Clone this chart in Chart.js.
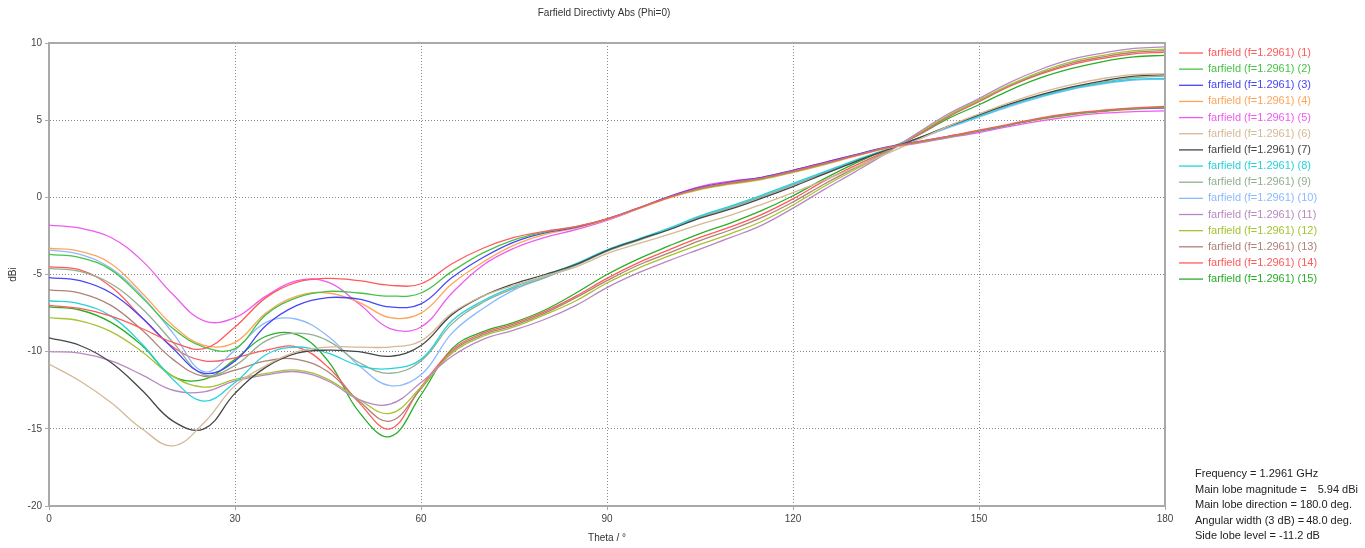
<!DOCTYPE html>
<html>
<head>
<meta charset="utf-8">
<title>Farfield Directivty Abs (Phi=0)</title>
<script src="https://cdn.jsdelivr.net/npm/chart.js@4.4.0/dist/chart.umd.min.js"></script>
<style>
    html, body { margin: 0; padding: 0; background: #ffffff; }
    #wrap { width: 1365px; height: 548px; }
</style>
</head>
<body>
<div id="wrap"><canvas id="farfieldChart" width="1365" height="548"></canvas></div>
<script>
// Theta angles (deg) of the samples
const theta = [0, 5, 10, 15, 20, 25, 30, 35, 40, 45, 50, 55, 60, 65, 70, 75, 80, 85, 90,
    95, 100, 105, 110, 115, 120, 125, 130, 135, 140, 145, 150, 155, 160, 165, 170, 175, 180];

// Directivity (dBi) of each farfield
const ff1 = [-7.0, -7.2, -7.7, -8.5, -9.4, -9.8, -8.4, -6.5, -5.5, -5.25, -5.4, -5.7, -5.6, -4.3, -3.3, -2.6, -2.2, -1.9, -1.4,
    -0.7, 0.0, 0.6, 0.95, 1.25, 1.7, 2.2, 2.7, 3.2, 3.6, 3.95, 4.35, 4.75, 5.15, 5.45, 5.65, 5.8, 5.9];
const ff2 = [-3.7, -3.9, -4.7, -6.5, -8.5, -9.7, -9.8, -7.6, -6.5, -6.1, -6.2, -6.4, -6.2, -4.8, -3.6, -2.75, -2.25, -1.9, -1.4,
    -0.7, 0.0, 0.55, 0.9, 1.2, 1.65, 2.15, 2.7, 3.2, 3.55, 3.9, 4.3, 4.7, 5.1, 5.4, 5.6, 5.75, 5.85];
const ff3 = [-5.2, -5.4, -6.2, -7.8, -9.8, -11.4, -10.6, -8.3, -7.0, -6.5, -6.6, -7.1, -6.9, -5.2, -3.9, -2.9, -2.3, -1.95, -1.4,
    -0.7, 0.05, 0.65, 1.0, 1.3, 1.75, 2.25, 2.75, 3.25, 3.6, 3.95, 4.3, 4.7, 5.1, 5.4, 5.6, 5.75, 5.8];
const ff4 = [-3.3, -3.5, -4.3, -6.2, -8.3, -9.6, -9.4, -7.5, -6.4, -6.2, -6.8, -7.8, -7.5, -5.6, -4.2, -3.1, -2.4, -2.0, -1.45,
    -0.75, -0.05, 0.5, 0.85, 1.15, 1.6, 2.1, 2.65, 3.15, 3.55, 3.9, 4.3, 4.7, 5.05, 5.35, 5.55, 5.7, 5.8];
const ff5 = [-1.8, -2.0, -2.6, -4.1, -6.3, -8.0, -7.8, -6.4, -5.4, -5.5, -6.9, -8.5, -8.4, -6.2, -4.4, -3.3, -2.6, -2.1, -1.5,
    -0.75, 0.05, 0.7, 1.05, 1.3, 1.75, 2.25, 2.75, 3.2, 3.5, 3.85, 4.2, 4.6, 4.95, 5.25, 5.45, 5.55, 5.6];
const ff6 = [-10.8, -11.9, -13.3, -15.0, -16.1, -14.6, -12.2, -10.9, -10.0, -9.7, -9.7, -9.7, -9.3, -7.5, -6.4, -5.7, -5.1, -4.5, -3.65,
    -3.0, -2.4, -1.75, -1.15, -0.45, 0.3, 1.1, 1.95, 2.8, 3.7, 4.6, 5.4, 6.15, 6.8, 7.3, 7.7, 7.95, 8.0];
const ff7 = [-9.1, -9.6, -10.7, -12.5, -14.5, -15.0, -12.7, -11.0, -10.1, -9.9, -10.0, -10.3, -9.6, -7.6, -6.4, -5.6, -5.0, -4.35, -3.45,
    -2.75, -2.1, -1.35, -0.75, -0.05, 0.7, 1.5, 2.3, 3.05, 3.8, 4.6, 5.35, 6.05, 6.65, 7.15, 7.55, 7.85, 7.95];
const ff8 = [-6.7, -6.9, -7.7, -9.5, -11.8, -13.2, -12.0, -10.2, -9.7, -10.1, -10.9, -11.1, -10.5, -8.0, -6.7, -5.8, -5.1, -4.3, -3.4,
    -2.7, -2.0, -1.2, -0.55, 0.15, 0.9, 1.65, 2.4, 3.1, 3.8, 4.55, 5.25, 5.95, 6.55, 7.05, 7.4, 7.65, 7.7];
const ff9 = [-4.6, -4.8, -5.6, -7.2, -9.4, -11.5, -10.9, -9.3, -8.8, -9.3, -10.7, -11.4, -10.6, -8.2, -6.8, -5.9, -5.2, -4.4, -3.5,
    -2.8, -2.1, -1.3, -0.65, 0.05, 0.8, 1.55, 2.35, 3.05, 3.8, 4.6, 5.3, 6.0, 6.6, 7.1, 7.45, 7.75, 7.85];
const ff10 = [-3.4, -3.7, -4.6, -6.4, -8.8, -11.3, -9.9, -8.1, -7.9, -9.0, -10.9, -12.2, -11.5, -8.8, -7.2, -6.0, -5.2, -4.4, -3.45,
    -2.75, -2.05, -1.25, -0.6, 0.1, 0.85, 1.6, 2.35, 3.05, 3.75, 4.5, 5.2, 5.9, 6.5, 7.0, 7.35, 7.6, 7.65];
const ff11 = [-10.0, -10.1, -10.6, -11.5, -12.5, -12.6, -11.9, -11.5, -11.3, -11.9, -13.1, -13.4, -12.0, -10.3, -9.2, -8.6, -7.9, -7.0, -5.85,
    -4.9, -4.1, -3.35, -2.6, -1.8, -0.7, 0.5, 1.65, 2.85, 4.15, 5.4, 6.4, 7.45, 8.3, 8.95, 9.35, 9.65, 9.75];
const ff12 = [-7.8, -8.0, -8.7, -10.0, -11.6, -12.3, -11.8, -11.4, -11.2, -11.8, -13.1, -14.0, -12.3, -10.1, -9.0, -8.4, -7.6, -6.7, -5.55,
    -4.6, -3.8, -3.05, -2.35, -1.55, -0.5, 0.7, 1.8, 2.9, 4.1, 5.3, 6.3, 7.3, 8.15, 8.8, 9.2, 9.5, 9.6];
const ff13 = [-6.0, -6.2, -7.0, -8.6, -10.5, -11.6, -11.2, -10.6, -10.5, -11.3, -13.2, -14.5, -12.4, -10.0, -8.9, -8.3, -7.5, -6.5, -5.4,
    -4.4, -3.6, -2.8, -2.1, -1.3, -0.3, 0.85, 1.9, 2.95, 4.05, 5.25, 6.25, 7.25, 8.05, 8.7, 9.1, 9.4, 9.5];
const ff14 = [-4.5, -4.7, -5.8, -7.8, -9.7, -10.6, -10.4, -9.9, -9.7, -11.0, -13.3, -15.0, -12.3, -9.9, -8.8, -8.2, -7.4, -6.4, -5.25,
    -4.25, -3.4, -2.6, -1.9, -1.1, -0.1, 1.05, 2.05, 3.0, 4.0, 5.2, 6.2, 7.2, 8.0, 8.6, 9.0, 9.3, 9.4];
const ff15 = [-7.1, -7.3, -8.1, -9.6, -11.6, -11.8, -10.5, -9.0, -8.9, -10.6, -13.9, -15.5, -12.8, -9.8, -8.7, -8.1, -7.3, -6.2, -5.0,
    -4.0, -3.15, -2.35, -1.65, -0.85, 0.1, 1.2, 2.2, 3.1, 4.0, 5.1, 6.0, 6.95, 7.75, 8.35, 8.8, 9.1, 9.2];

const SERIES = [ff1, ff2, ff3, ff4, ff5, ff6, ff7, ff8, ff9, ff10, ff11, ff12, ff13, ff14, ff15];

// Legend names
const NAMES = [];
for (var n = 1; n <= SERIES.length; n++) {
    NAMES.push('farfield (f=1.2961) (' + n + ')');
}

// Line colours, same order as the legend
const COLORS = [
    'rgb(255, 90, 90)',
    'rgb(70, 195, 70)',
    'rgb(70, 70, 250)',
    'rgb(255, 165, 90)',
    'rgb(240, 90, 240)',
    'rgb(212, 185, 150)',
    'rgb(70, 70, 70)',
    'rgb(40, 210, 220)',
    'rgb(145, 175, 145)',
    'rgb(140, 185, 255)',
    'rgb(185, 135, 195)',
    'rgb(165, 195, 50)',
    'rgb(175, 130, 120)',
    'rgb(255, 90, 90)',
    'rgb(40, 175, 40)'
];

// Result box below the legend
const RESULT_LINES = [
    ['Frequency = 1.2961 GHz', ''],
    ['Main lobe magnitude =', '5.94 dBi'],
    ['Main lobe direction =', '180.0 deg.'],
    ['Angular width (3 dB) =', '48.0 deg.'],
    ['Side lobe level = -11.2 dB', '']
];

const TITLE = 'Farfield Directivty Abs (Phi=0)';
const X_TITLE = 'Theta / \u00B0';
const Y_TITLE = 'dBi';

const FONT = '"Liberation Sans", Arial, sans-serif';

var datasets = [];
for (var i = 0; i < SERIES.length; i++) {
    var pts = [];
    for (var j = 0; j < theta.length; j++) {
        pts.push({ x: theta[j], y: SERIES[i][j] });
    }
    datasets.push({
        label: NAMES[i],
        data: pts,
        borderColor: COLORS[i],
        borderWidth: 1.3,
        pointRadius: 0,
        tension: 0.4,
        fill: false
    });
}

// Draws the frame, titles, legend and the result box
const decorPlugin = {
    id: 'decor',
    afterDraw: function (chart) {
        var ctx = chart.ctx;
        var area = chart.chartArea;
        ctx.save();

        // top and right frame
        ctx.strokeStyle = '#a9a9a9';
        ctx.lineWidth = 2;
        ctx.beginPath();
        ctx.moveTo(area.left, area.top);
        ctx.lineTo(area.right, area.top);
        ctx.lineTo(area.right, area.bottom);
        ctx.stroke();

        ctx.fillStyle = '#333';
        ctx.font = '10px ' + FONT;
        ctx.textAlign = 'center';
        ctx.textBaseline = 'middle';
        ctx.fillText(TITLE, 604, 13);
        ctx.fillText(X_TITLE, (area.left + area.right) / 2, 538);

        ctx.save();
        ctx.translate(13, (area.top + area.bottom) / 2);
        ctx.rotate(-Math.PI / 2);
        ctx.fillText(Y_TITLE, 0, 0);
        ctx.restore();

        // legend
        ctx.font = '11px ' + FONT;
        ctx.textAlign = 'left';
        for (var k = 0; k < chart.data.datasets.length; k++) {
            var ds = chart.data.datasets[k];
            var y = 53 + k * 16.15;
            ctx.strokeStyle = ds.borderColor;
            ctx.lineWidth = 1.3;
            ctx.beginPath();
            ctx.moveTo(1179, y);
            ctx.lineTo(1203, y);
            ctx.stroke();
            ctx.fillStyle = ds.borderColor;
            ctx.fillText(ds.label, 1208, y);
        }

        // result box
        ctx.fillStyle = '#222';
        for (var r = 0; r < RESULT_LINES.length; r++) {
            var ly = 474 + r * 15.6;
            ctx.textAlign = 'left';
            ctx.fillText(RESULT_LINES[r][0], 1195, ly);
            if (RESULT_LINES[r][1]) {
                ctx.textAlign = 'right';
                ctx.fillText(RESULT_LINES[r][1], r === 1 ? 1358 : 1352, ly);
            }
        }
        ctx.restore();
    }
};

var ctx = document.getElementById('farfieldChart').getContext('2d');
var myChart = new Chart(ctx, {
    type: 'line',
    data: { datasets: datasets },
    plugins: [decorPlugin],
    options: {
        responsive: false,
        animation: false,
        layout: { padding: { left: 0, top: 43, right: 200, bottom: 0 } },
        plugins: {
            legend: { display: false },
            tooltip: { enabled: false },
            title: { display: false }
        },
        scales: {
            x: {
                type: 'linear',
                min: 0,
                max: 180,
                afterFit: function (scale) { scale.height = 42; },
                afterBuildTicks: function (scale) {
                    scale.ticks = [0, 30, 60, 90, 120, 150, 180].map(function (v) { return { value: v }; });
                },
                ticks: { color: '#444', font: { size: 10, family: FONT }, padding: 3, maxRotation: 0 },
                grid: { color: '#8a8a8a', lineWidth: 1, tickLength: 4, tickColor: '#a9a9a9' },
                border: { color: '#a9a9a9', width: 2, dash: [1, 2] }
            },
            y: {
                min: -20,
                max: 10,
                afterFit: function (scale) { scale.width = 49; },
                ticks: { stepSize: 5, color: '#444', font: { size: 10, family: FONT }, padding: 3 },
                grid: { color: '#8a8a8a', lineWidth: 1, tickLength: 4, tickColor: '#a9a9a9' },
                border: { color: '#a9a9a9', width: 2, dash: [1, 2] }
            }
        }
    }
});
</script>
</body>
</html>
